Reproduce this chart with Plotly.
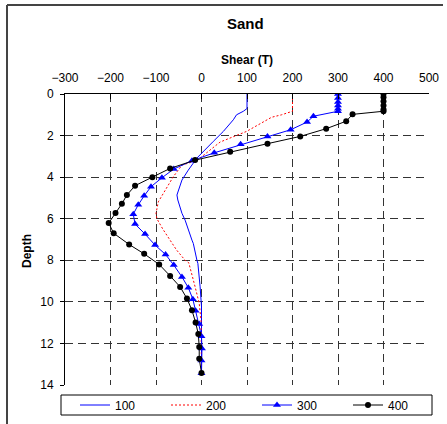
import plotly.graph_objects as go

# ---- data ----
depth_100 = [0, 0.7, 0.83, 1.0, 1.24, 1.8, 2.28, 2.76, 3.08, 3.66, 4.14, 4.86, 5.1, 5.74, 6.07, 7.03, 7.19, 8.0, 8.15, 9.28, 10.24, 11.0, 12.0, 13.0, 13.4]
shear_100 = [100, 100, 92, 77, 70, 48, 26, 4, -10, -29, -43, -54, -52, -43, -36, -21, -18, -10, -8, -3, 0, 0, 0, 0, 0]

depth_200 = [0, 0.83, 1.0, 1.12, 1.8, 2.31, 3.2, 3.42, 3.98, 4.62, 5.19, 5.74, 6.0, 6.5, 7.0, 7.5, 8.0, 8.12, 9.28, 10.08, 10.9, 12.0, 13.4]
shear_200 = [200, 200, 176, 154, 99, 41, -10, -43, -62, -80, -95, -100, -98, -85, -70, -55, -36, -28, -14, -5, -1, 0, 0]

depth_300 = [0, 0.19, 0.39, 0.55, 0.71, 0.83, 1.07, 1.35, 1.72, 2.05, 2.42, 2.83, 3.21, 3.61, 4.03, 4.46, 4.9, 5.33, 5.78, 6.26, 6.74, 7.27, 7.72, 8.23, 8.8, 9.32, 9.87, 10.43, 11.07, 11.65, 12.24, 12.82, 13.43]
shear_300 = [300, 300, 300, 300, 300, 300, 246, 232, 196, 145, 86, 28, -21, -61, -87, -111, -126, -139, -150, -146, -124, -102, -79, -61, -43, -29, -19, -13, -5, 0, 1, 0, 0]

depth_400 = [0, 0.16, 0.35, 0.55, 0.74, 0.83, 0.98, 1.31, 1.67, 2.04, 2.39, 2.78, 3.18, 3.58, 4.0, 4.41, 4.86, 5.28, 5.73, 6.21, 6.7, 7.24, 7.69, 8.2, 8.75, 9.28, 9.84, 10.4, 10.99, 11.55, 12.17, 12.74, 13.42]
shear_400 = [400, 400, 400, 400, 400, 400, 332, 318, 274, 217, 145, 63, -14, -69, -108, -146, -164, -175, -189, -204, -193, -159, -126, -93, -69, -47, -32, -21, -13, -7, -5, -5, 0]

x_ticks = [-300, -200, -100, 0, 100, 200, 300, 400, 500]
y_ticks = [0, 2, 4, 6, 8, 10, 12, 14]

FONT = "Arial, Liberation Sans, sans-serif"

fig = go.Figure()
fig.add_trace(go.Scatter(x=shear_100, y=depth_100, name="100", mode="lines",
                         line=dict(color="#0000FF", width=1)))
fig.add_trace(go.Scatter(x=shear_200, y=depth_200, name="200", mode="lines",
                         line=dict(color="#FF0000", width=1, dash="2px,2px")))
fig.add_trace(go.Scatter(x=shear_300, y=depth_300, name="300", mode="lines+markers",
                         line=dict(color="#0000FF", width=1),
                         marker=dict(symbol="triangle-up", size=7, color="#0000FF")))
fig.add_trace(go.Scatter(x=shear_400, y=depth_400, name="400", mode="lines+markers",
                         line=dict(color="#000000", width=1),
                         marker=dict(symbol="circle", size=6, color="#000000")))

L, R, T, B = 65, 18, 94, 39
W, H = 447, 424
pw, ph = W - L - R, H - T - B

def px(x):
    return (x - L) / pw

def py(y):
    return (H - B - y) / ph

grid = dict(showgrid=True, gridcolor="#333333", gridwidth=1, griddash="8px,5px",
            zeroline=False, showline=True, linecolor="black", linewidth=1)

fig.update_layout(
    width=W, height=H,
    margin=dict(l=L, r=R, t=T, b=B, autoexpand=False),
    paper_bgcolor="white", plot_bgcolor="white",
    font=dict(family=FONT, size=12, color="black"),
    showlegend=True,
    legend=dict(orientation="h", xref="container", yref="container",
                x=75 / W, y=1 - 405 / H, xanchor="left", yanchor="middle",
                bgcolor="rgba(0,0,0,0)", borderwidth=0, font=dict(size=12),
                entrywidth=46, entrywidthmode="pixels", itemwidth=30,
                tracegroupgap=0),
    xaxis=dict(range=[-300, 500], side="top", tickvals=x_ticks, ticks="inside",
               ticklen=5, tickcolor="black", ticklabelstandoff=6, **grid),
    yaxis=dict(range=[14, 0], tickvals=y_ticks, ticks="outside", ticklen=4,
               tickcolor="black", ticklabelstandoff=4, **grid),
    annotations=[
        dict(text="<b>Sand</b>", x=px(245), y=py(24), xref="paper", yref="paper",
             showarrow=False, font=dict(size=15), xanchor="center", yanchor="middle"),
        dict(text="<b>Shear (T)</b>", x=px(247), y=py(60), xref="paper", yref="paper",
             showarrow=False, font=dict(size=12), xanchor="center", yanchor="middle"),
        dict(text="<b>Depth</b>", x=px(27), y=py(251), xref="paper", yref="paper",
             showarrow=False, font=dict(size=12), textangle=-90,
             xanchor="center", yanchor="middle"),
    ],
    shapes=[
        dict(type="line", xref="paper", yref="paper", x0=px(7), x1=px(7),
             y0=py(5), y1=py(430), line=dict(color="#444444", width=2)),
        dict(type="line", xref="paper", yref="paper", x0=px(7), x1=px(443),
             y0=py(5), y1=py(5), line=dict(color="#444444", width=2)),
        dict(type="rect", xref="paper", yref="paper", x0=px(61), x1=px(432),
             y0=py(395), y1=py(415), line=dict(color="black", width=1),
             fillcolor="rgba(0,0,0,0)"),
    ],
)

fig.write_html("out.html")
